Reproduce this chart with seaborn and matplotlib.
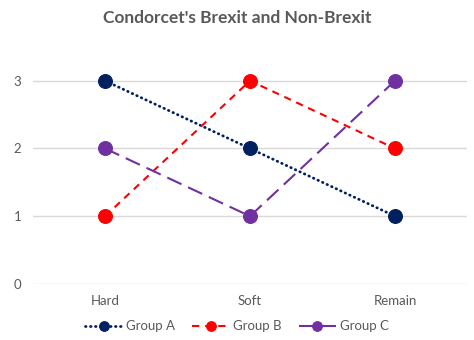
import matplotlib
matplotlib.use("Agg")
import matplotlib.pyplot as plt
import seaborn as sns
import pandas as pd

categories = ["Hard", "Soft", "Remain"]
group_a = [3, 2, 1]
group_b = [1, 3, 2]
group_c = [2, 1, 3]
series_names = ["Group A", "Group B", "Group C"]
y_ticks = [0, 1, 2, 3]

sns.set_theme(style="white")
plt.rcParams['font.family'] = ['Lato', 'DejaVu Sans']

fig = plt.figure(figsize=(4.74, 3.4), dpi=100)
ax = fig.add_axes([0.0686, 0.165, 0.9176, 0.697])

colors = ["#002060", "#FF0000", "#7030A0"]
styles = [(0, (0.2, 1.6)), (0, (3.5, 2.8)), (0, (7.5, 3.5))]
caps = ["round", "butt", "butt"]
widths = [2.0, 1.5, 1.5]
for name, vals, c, ls, cap, w in zip(series_names, [group_a, group_b, group_c], colors, styles, caps, widths):
    df = pd.DataFrame({"x": range(len(categories)), "y": vals})
    sns.lineplot(data=df, x="x", y="y", ax=ax, color=c, linestyle=ls, linewidth=w,
                 marker="o", markersize=10, markeredgecolor=c, markerfacecolor=c,
                 label=name, sort=False, dash_capstyle=cap)

ax.set_xlim(-0.5, len(categories) - 0.5)
ax.set_ylim(0, 3.5)
ax.set_xticks(range(len(categories)))
ax.set_xticklabels(categories)
ax.set_yticks(y_ticks)
ax.set_xlabel("")
ax.set_ylabel("")
ax.grid(axis="y", color="#D9D9D9", linewidth=1)
ax.set_axisbelow(True)
for s in ax.spines.values():
    s.set_visible(False)
ax.tick_params(axis="both", length=0, labelsize=9.5, labelcolor="#595959", pad=8)

fig.suptitle("Condorcet's Brexit and Non-Brexit", x=0.5, y=0.97, fontsize=12.5,
             fontweight="bold", color="#595959")

ax.legend(loc="lower center", bbox_to_anchor=(0.47, -0.255), ncol=3, frameon=False,
          fontsize=9.5, labelcolor="#595959", handlelength=2.8, columnspacing=1.3,
          handletextpad=0.3, markerscale=0.7)

fig.savefig("out.png", dpi=100)
